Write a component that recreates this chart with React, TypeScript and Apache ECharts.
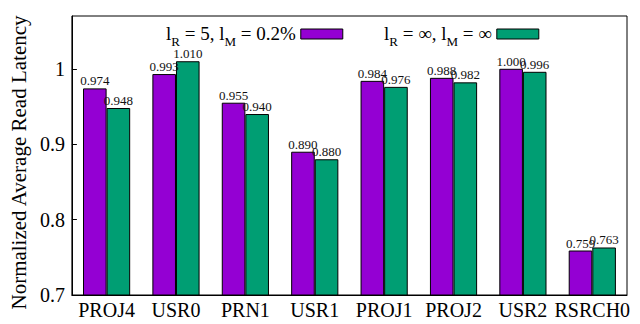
import React, { useEffect, useRef } from "react";
import * as echarts from "echarts";

const categories = ["PROJ4", "USR0", "PRN1", "USR1", "PROJ1", "PROJ2", "USR2", "RSRCH0"];
const seriesA = [0.974, 0.993, 0.955, 0.89, 0.984, 0.988, 1.0, 0.759];
const seriesB = [0.948, 1.01, 0.94, 0.88, 0.976, 0.982, 0.996, 0.763];
const nameA = "A";
const nameB = "B";
const legendA = "{n|l}{s|R}{n| = 5, l}{s|M}{n| = 0.2%}";
const legendB = "{n|l}{s|R}{n| = ∞, l}{s|M}{n| = ∞}";

const FONT = "'Liberation Serif', 'Times New Roman', serif";

export default function App() {
  const ref = useRef<HTMLDivElement>(null);
  useEffect(() => {
    if (!ref.current) return;
    const chart = echarts.init(ref.current, null, { renderer: "svg" });
    const labelCfg = {
      show: true,
      position: "top",
      distance: 1,
      fontFamily: FONT,
      fontSize: 13,
      color: "#111",
      formatter: (p: any) => Number(p.value).toFixed(3),
    };
    const legendText = {
      fontFamily: FONT,
      fontSize: 19,
      color: "#000",
      rich: {
        n: { fontFamily: FONT, fontSize: 19, lineHeight: 20, verticalAlign: "top", color: "#000" },
        s: { fontFamily: FONT, fontSize: 13, lineHeight: 13, verticalAlign: "top", padding: [11, 0, 0, 0], color: "#000" },
      },
    };
    const legendBase = {
      top: 19,
      align: "right",
      itemWidth: 42,
      itemHeight: 10,
      icon: "rect",
      textStyle: legendText,
      itemStyle: { borderColor: "#000", borderWidth: 1 },
      formatter: (n: string) => (n === nameA ? legendA : legendB),
    };
    chart.setOption({
      animation: false,
      textStyle: { fontFamily: FONT },
      grid: {
        left: 70,
        right: 13,
        top: 16,
        bottom: 29,
        show: true,
        borderColor: "#000",
        borderWidth: 1,
        backgroundColor: "transparent",
      },
      legend: [
        { ...legendBase, left: 161, data: [nameA] },
        { ...legendBase, left: 379, data: [nameB] },
      ],
      xAxis: {
        type: "category",
        data: categories,
        axisLine: { lineStyle: { color: "#000", width: 1 } },
        axisTick: { show: false },
        axisLabel: { fontFamily: FONT, fontSize: 20, color: "#000", margin: 5, interval: 0 },
      },
      yAxis: {
        type: "value",
        min: 0.7,
        max: 1.07,
        interval: 0.1,
        name: "Normalized Average Read Latency",
        nameLocation: "middle",
        nameGap: 40,
        nameTextStyle: { fontFamily: FONT, fontSize: 21, color: "#000", padding: [0, 14, 0, 0] },
        axisLine: { show: true, lineStyle: { color: "#000", width: 1 } },
        axisTick: { show: true, inside: true, length: 5, lineStyle: { color: "#000" } },
        splitLine: { show: false },
        axisLabel: {
          fontFamily: FONT,
          fontSize: 20,
          color: "#000",
          margin: 7,
          showMaxLabel: false,
          formatter: (v: number) => {
            const r = Math.round(v * 10) / 10;
            if (Math.abs(r - v) > 1e-6) return "";
            return r === 1 ? "1" : r.toFixed(1);
          },
        },
      },
      series: [
        {
          name: nameA,
          type: "bar",
          data: seriesA,
          barGap: "0%",
          barCategoryGap: "32%",
          itemStyle: { color: "#9400D3", borderColor: "#000", borderWidth: 1 },
          label: labelCfg,
        },
        {
          name: nameB,
          type: "bar",
          data: seriesB,
          barGap: "0%",
          barCategoryGap: "32%",
          itemStyle: { color: "#009E73", borderColor: "#000", borderWidth: 1 },
          label: labelCfg,
        },
      ],
    });
    return () => chart.dispose();
  }, []);
  return <div ref={ref} style={{ width: 640, height: 324, position: "absolute", left: 0, top: 0 }} />;
}
